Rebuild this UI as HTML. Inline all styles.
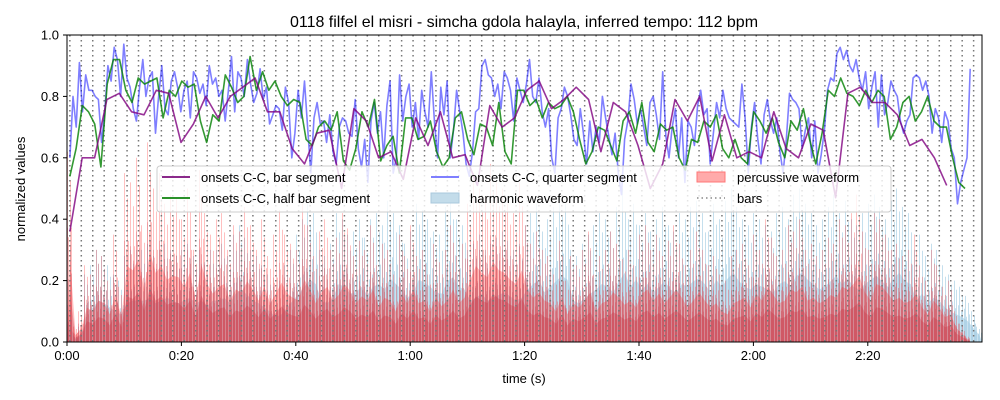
<!DOCTYPE html>
<html><head><meta charset="utf-8"><style>
body{margin:0;background:#fff;}
svg{display:block;font-family:"Liberation Sans","DejaVu Sans",sans-serif;}
</style></head><body>
<svg id="chart" width="1000" height="400">
<text x="524" y="27" font-size="16" text-anchor="middle">0118 filfel el misri - simcha gdola halayla, inferred tempo: 112 bpm</text>
<g id="wave"></g>
<g id="bars"></g>
<g id="lines"></g>
<rect x="67" y="35" width="915" height="307" fill="none" stroke="#000" stroke-width="1"/>
<g id="axes" font-size="13"></g>
<text x="524" y="383" font-size="13" text-anchor="middle">time (s)</text>
<text transform="translate(25,189) rotate(-90)" font-size="13" text-anchor="middle">normalized values</text>
<g font-size="13">
<rect x="157" y="166" width="734" height="46" rx="3" fill="#fff" fill-opacity="0.8" stroke="#ccc"/>
<g><line x1="162" y1="177" x2="190" y2="177" stroke="#8b2a8b" stroke-width="2"/><text x="201" y="182">onsets C-C, bar segment</text></g>
<g><line x1="162" y1="198" x2="190" y2="198" stroke="#2a912a" stroke-width="2"/><text x="201" y="203">onsets C-C, half bar segment</text></g>
<g><line x1="431" y1="177" x2="459" y2="177" stroke="#7f7fff" stroke-width="2"/><text x="470" y="182">onsets C-C, quarter segment</text></g>
<g><rect x="431" y="193" width="28" height="10" fill="#c3dcea" stroke="#a9c8dc"/><text x="470" y="203">harmonic waveform</text></g>
<g><rect x="697" y="172" width="28" height="10" fill="#ffaaaa" stroke="#f77"/><text x="737" y="182">percussive waveform</text></g>
<g><line x1="697" y1="198" x2="725" y2="198" stroke="#888" stroke-width="1.5" stroke-dasharray="1.5,3"/><text x="737" y="203">bars</text></g>
</g>
</svg>
<script>
const xTicks=[0,20,40,60,80,100,120,140];
const xTickLabels=["0:00","0:20","0:40","1:00","1:20","1:40","2:00","2:20"];
const yTicks=[0,0.2,0.4,0.6,0.8,1.0];
const yTickLabels=["0.0","0.2","0.4","0.6","0.8","1.0"];
const barPeriod=2.0, barStart=0.5, barCount=80;
const segStart=0.5, barEnd=153.8, halfEnd=157.0, quarterEnd=157.9;
const barVals=[0.36,0.6,0.6,0.79,0.81,0.75,0.74,0.82,0.81,0.65,0.71,0.8,0.73,0.8,0.83,0.86,0.75,0.75,0.63,0.58,0.68,0.69,0.5,0.76,0.72,0.6,0.62,0.53,0.73,0.64,0.75,0.6,0.61,0.51,0.77,0.7,0.73,0.82,0.85,0.76,0.79,0.83,0.79,0.62,0.78,0.75,0.64,0.5,0.58,0.79,0.72,0.8,0.59,0.74,0.6,0.62,0.6,0.75,0.63,0.6,0.71,0.69,0.47,0.81,0.83,0.78,0.78,0.74,0.64,0.66,0.6,0.51];
const halfVals=[0.54,0.63,0.77,0.75,0.71,0.57,0.84,0.92,0.92,0.82,0.78,0.86,0.84,0.85,0.86,0.73,0.82,0.8,0.85,0.83,0.84,0.72,0.65,0.74,0.72,0.87,0.83,0.78,0.8,0.93,0.82,0.88,0.82,0.85,0.8,0.77,0.79,0.78,0.66,0.64,0.7,0.72,0.69,0.75,0.59,0.56,0.63,0.75,0.7,0.79,0.59,0.64,0.67,0.55,0.73,0.73,0.66,0.67,0.72,0.62,0.57,0.6,0.73,0.75,0.66,0.61,0.71,0.7,0.64,0.78,0.62,0.58,0.82,0.82,0.77,0.79,0.73,0.78,0.76,0.77,0.8,0.75,0.66,0.58,0.62,0.7,0.69,0.64,0.59,0.72,0.75,0.68,0.78,0.65,0.62,0.71,0.69,0.7,0.6,0.56,0.66,0.65,0.72,0.7,0.74,0.63,0.6,0.66,0.6,0.58,0.75,0.72,0.68,0.73,0.65,0.6,0.72,0.69,0.76,0.66,0.58,0.68,0.82,0.8,0.86,0.81,0.8,0.77,0.82,0.78,0.82,0.8,0.66,0.7,0.78,0.8,0.72,0.75,0.8,0.72,0.7,0.7,0.6,0.52,0.5];
const quarterVals=[0.6,0.8,0.7,0.91,0.75,0.87,0.82,0.82,0.8,0.79,0.65,0.75,0.9,0.85,0.96,0.92,0.8,0.97,0.86,0.83,0.76,0.72,0.83,0.92,0.8,0.86,0.88,0.68,0.8,0.9,0.76,0.74,0.85,0.88,0.83,0.75,0.82,0.85,0.73,0.88,0.86,0.81,0.84,0.77,0.9,0.84,0.86,0.8,0.82,0.72,0.82,0.93,0.75,0.88,0.86,0.8,0.92,0.84,0.78,0.81,0.89,0.79,0.83,0.71,0.74,0.77,0.76,0.69,0.83,0.78,0.6,0.68,0.82,0.73,0.85,0.7,0.55,0.73,0.78,0.71,0.72,0.65,0.74,0.62,0.58,0.7,0.73,0.72,0.68,0.67,0.79,0.63,0.57,0.66,0.52,0.72,0.78,0.68,0.75,0.6,0.77,0.85,0.55,0.6,0.87,0.72,0.8,0.84,0.7,0.78,0.66,0.82,0.75,0.7,0.88,0.72,0.6,0.83,0.74,0.85,0.6,0.69,0.82,0.75,0.68,0.58,0.54,0.62,0.75,0.76,0.9,0.92,0.87,0.86,0.8,0.84,0.76,0.88,0.86,0.82,0.72,0.86,0.82,0.78,0.84,0.92,0.8,0.78,0.86,0.75,0.7,0.76,0.6,0.55,0.73,0.76,0.83,0.8,0.74,0.66,0.64,0.76,0.68,0.58,0.72,0.62,0.7,0.65,0.8,0.73,0.67,0.61,0.68,0.55,0.48,0.66,0.72,0.84,0.79,0.71,0.76,0.7,0.64,0.78,0.8,0.74,0.66,0.88,0.67,0.6,0.7,0.76,0.6,0.73,0.52,0.72,0.7,0.64,0.77,0.82,0.74,0.76,0.58,0.68,0.78,0.73,0.82,0.76,0.73,0.72,0.71,0.7,0.84,0.73,0.55,0.7,0.78,0.66,0.58,0.74,0.79,0.72,0.68,0.73,0.62,0.55,0.66,0.81,0.79,0.78,0.76,0.63,0.69,0.73,0.6,0.72,0.55,0.61,0.69,0.82,0.86,0.85,0.94,0.96,0.92,0.95,0.9,0.88,0.92,0.86,0.82,0.88,0.76,0.83,0.88,0.7,0.87,0.74,0.78,0.85,0.82,0.8,0.72,0.68,0.72,0.74,0.86,0.87,0.86,0.82,0.85,0.8,0.68,0.76,0.73,0.65,0.75,0.72,0.63,0.6,0.45,0.52,0.56,0.6,0.89];
const percVals=[0.62,0.05,0.1,0.25,0.22,0.3,0.28,0.2,0.35,0.18,0.55,0.52,0.6,0.38,0.65,0.5,0.55,0.45,0.48,0.47,0.4,0.5,0.3,0.56,0.42,0.35,0.4,0.42,0.3,0.38,0.36,0.44,0.38,0.3,0.4,0.28,0.35,0.43,0.35,0.32,0.3,0.45,0.38,0.28,0.36,0.4,0.3,0.34,0.42,0.37,0.28,0.33,0.3,0.38,0.25,0.32,0.3,0.22,0.35,0.28,0.38,0.28,0.3,0.22,0.32,0.26,0.3,0.38,0.28,0.32,0.45,0.55,0.5,0.47,0.58,0.52,0.5,0.45,0.42,0.52,0.38,0.32,0.36,0.3,0.28,0.22,0.33,0.2,0.28,0.25,0.3,0.36,0.22,0.28,0.3,0.36,0.32,0.27,0.3,0.25,0.35,0.38,0.3,0.35,0.28,0.33,0.38,0.32,0.25,0.3,0.36,0.3,0.25,0.28,0.22,0.2,0.28,0.3,0.32,0.25,0.35,0.3,0.4,0.34,0.28,0.3,0.38,0.36,0.4,0.3,0.32,0.28,0.3,0.34,0.32,0.4,0.38,0.42,0.48,0.36,0.3,0.42,0.4,0.35,0.3,0.32,0.28,0.3,0.35,0.25,0.2,0.3,0.25,0.18,0.2,0.1,0.06,0.02];
const harmVals=[0.12,0.02,0.05,0.22,0.25,0.3,0.28,0.25,0.22,0.2,0.28,0.3,0.3,0.3,0.32,0.28,0.3,0.32,0.3,0.28,0.3,0.32,0.28,0.3,0.26,0.3,0.3,0.32,0.28,0.35,0.38,0.34,0.3,0.28,0.25,0.22,0.18,0.2,0.25,0.3,0.35,0.4,0.45,0.42,0.3,0.28,0.32,0.42,0.4,0.35,0.36,0.4,0.34,0.4,0.42,0.38,0.46,0.42,0.38,0.32,0.36,0.45,0.43,0.4,0.36,0.35,0.44,0.47,0.4,0.38,0.3,0.32,0.35,0.3,0.32,0.34,0.36,0.33,0.3,0.32,0.38,0.42,0.45,0.36,0.4,0.44,0.48,0.45,0.3,0.28,0.32,0.35,0.38,0.42,0.4,0.36,0.44,0.5,0.4,0.45,0.38,0.42,0.36,0.4,0.44,0.38,0.36,0.42,0.4,0.44,0.46,0.42,0.36,0.45,0.4,0.46,0.5,0.44,0.4,0.38,0.42,0.4,0.38,0.36,0.42,0.44,0.4,0.48,0.5,0.45,0.42,0.38,0.4,0.44,0.48,0.42,0.46,0.4,0.38,0.42,0.45,0.48,0.44,0.4,0.46,0.5,0.44,0.42,0.3,0.35,0.28,0.32,0.3,0.25,0.22,0.2,0.18,0.15,0.1,0.05];
const NS="http://www.w3.org/2000/svg";
const xs=t=>67+t*5.72, ys=v=>342-v*307;
function mk(tag,attrs,parent){const e=document.createElementNS(NS,tag);for(const k in attrs)e.setAttribute(k,attrs[k]);parent.appendChild(e);return e;}
const wave=document.getElementById('wave');
const subShape=[1,0.55,0.85,0.6];
function spikes(vals,color,op,bodyOp,name){
  const g=mk('g',{},wave);
  
  
  // body envelope
  let d=`M${xs(0)},${ys(0)}`;
  vals.forEach((v,i)=>{d+=` L${xs(i+0.5).toFixed(1)},${ys(v*0.45).toFixed(1)}`;});
  d+=` L${xs(vals.length)},${ys(0)} Z`;
  mk('path',{d:d,fill:color,'fill-opacity':bodyOp},g);
  let s='';
  vals.forEach((v,i)=>{
    subShape.forEach((f,j)=>{
      const x=Math.round(xs(i+j/subShape.length))+0.5;
      s+=`M${x},${ys(0)}V${ys(v*f).toFixed(1)}`;
    });
  });
  mk('path',{d:s,stroke:color,'stroke-opacity':op,'stroke-width':1,fill:'none'},g);
}
spikes(harmVals,'#9ecae1',0.6,0.55,'harmonic-waveform');
spikes(percVals,'#ff3030',0.3,0.3,'percussive-waveform');
spikes(percVals.map(v=>v*0.6),'#c83040',0.25,0.3,'percussive-waveform-core');
const bars=document.getElementById('bars');
for(let i=0;i<barCount;i++){
  const t=barStart+i*barPeriod; if(xs(t)>980)break;
  const l=mk('line',{x1:xs(t),x2:xs(t),y1:35,y2:342,stroke:'#777','stroke-width':1.5,'stroke-dasharray':'1.5,3.5'},bars);
  
  
}
const lines=document.getElementById('lines');
function series(vals,tEnd,color,w,name){
  const step=(tEnd-segStart)/(vals.length-1);
  const pts=vals.map((v,i)=>xs(segStart+i*step).toFixed(1)+','+ys(v).toFixed(1)).join(' ');
  const p=mk('polyline',{points:pts,fill:'none',stroke:color,'stroke-width':1.6,'stroke-linejoin':'round'},lines);
  
  
}
series(quarterVals,quarterEnd,'rgba(0,0,255,0.5)',1.6,'quarter-segment-line');
series(halfVals,halfEnd,'rgba(0,128,0,0.8)',1.6,'half-bar-segment-line');
series(barVals,barEnd,'rgba(128,0,128,0.8)',1.6,'bar-segment-line');
const axes=document.getElementById('axes');
xTicks.forEach((t,i)=>{
  const l=mk('line',{x1:xs(t),x2:xs(t),y1:342,y2:346,stroke:'#000'},axes);
  
  
  const tx=mk('text',{x:xs(t),y:360,'text-anchor':'middle'},axes);tx.textContent=xTickLabels[i];
  
  
});
yTicks.forEach((v,i)=>{
  const l=mk('line',{x1:63,x2:67,y1:ys(v),y2:ys(v),stroke:'#000'},axes);
  
  
  const tx=mk('text',{x:59,y:ys(v)+4.5,'text-anchor':'end'},axes);tx.textContent=yTickLabels[i];
  
  
});
</script>
</body></html>
